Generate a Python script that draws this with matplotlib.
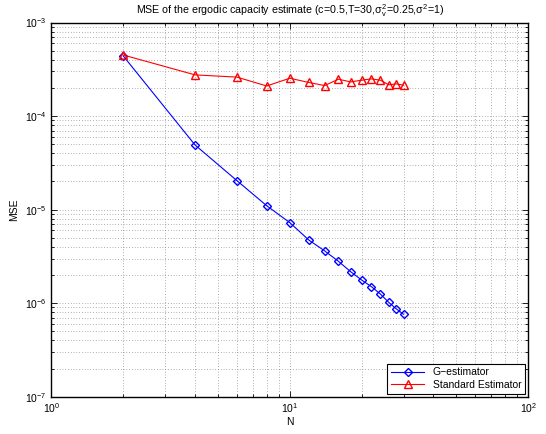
import numpy as np
import matplotlib
matplotlib.use('Agg')
import matplotlib.pyplot as plt
from matplotlib.ticker import LogLocator, NullFormatter

plt.rcParams['font.family'] = ['Liberation Sans', 'DejaVu Sans']
plt.rcParams['mathtext.fontset'] = 'custom'
plt.rcParams['mathtext.rm'] = 'Liberation Sans'
plt.rcParams['mathtext.it'] = 'Liberation Sans'

# Datos
N = [2, 4, 6, 8, 10, 12, 14, 16, 18, 20, 22, 24, 26, 28, 30]
mse_g = [4.4e-4, 4.92e-5, 2.04e-5, 1.10e-5, 7.26e-6, 4.74e-6, 3.62e-6, 2.80e-6,
         2.17e-6, 1.77e-6, 1.50e-6, 1.25e-6, 1.02e-6, 8.67e-7, 7.6e-7]
mse_std = [4.5e-4, 2.76e-4, 2.61e-4, 2.10e-4, 2.54e-4, 2.29e-4, 2.12e-4, 2.48e-4,
           2.32e-4, 2.42e-4, 2.50e-4, 2.42e-4, 2.16e-4, 2.21e-4, 2.14e-4]

fig = plt.figure(figsize=(5.46, 4.34), dpi=100)
ax = fig.add_axes([0.0943, 0.086, 0.873, 0.862])

ax.loglog(N, mse_g, color='blue', marker='D', markersize=4.3, markerfacecolor='none',
          markeredgecolor='blue', linewidth=0.8, label='G\u2212estimator')
ax.loglog(N, mse_std, color='red', marker='^', markersize=5.5, markerfacecolor='none',
          markeredgecolor='red', linewidth=0.8, label='Standard Estimator')

ax.set_xlim(1, 100)
ax.set_ylim(1e-7, 1e-3)
ax.xaxis.set_major_locator(LogLocator(base=10, numticks=10))
ax.yaxis.set_major_locator(LogLocator(base=10, numticks=10))
ax.xaxis.set_minor_locator(LogLocator(base=10, subs=np.arange(2, 10), numticks=20))
ax.yaxis.set_minor_locator(LogLocator(base=10, subs=np.arange(2, 10), numticks=20))
ax.xaxis.set_minor_formatter(NullFormatter())
ax.yaxis.set_minor_formatter(NullFormatter())

ax.grid(True, which='both', linestyle=(0, (1, 3)), color='#666666', linewidth=0.5)
ax.tick_params(which='both', direction='in', top=True, right=True, labelsize=7.5)
ax.tick_params(which='major', length=4, width=0.6)
ax.tick_params(which='minor', length=2, width=0.6)
for s in ax.spines.values():
    s.set_linewidth(1.0)

ax.set_xlabel('N', fontsize=7.5, labelpad=1)
ax.set_ylabel('MSE', fontsize=7.5, labelpad=4)
ax.set_title(r'MSE of the ergodic capacity estimate (c=0.5,T=30,$\sigma_v^2$=0.25,$\sigma^2$=1)',
             fontsize=7.7, pad=6)

leg = ax.legend(loc='lower right', fontsize=7.5, fancybox=False, edgecolor='black',
                framealpha=1, borderaxespad=0.3, handlelength=3.2, borderpad=0.35,
                labelspacing=0.25)
leg.get_frame().set_linewidth(0.8)

fig.savefig('out.png', dpi=100)
